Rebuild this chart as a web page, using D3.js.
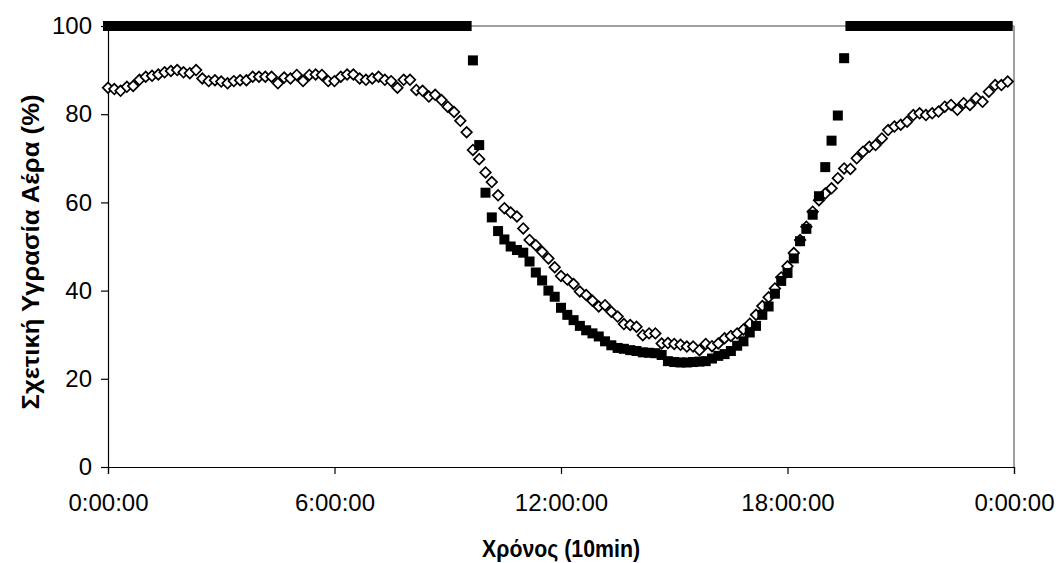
<!DOCTYPE html>
<html>
<head>
<meta charset="utf-8">
<script src="https://cdn.jsdelivr.net/npm/d3@7"></script>
<style>
  body { margin: 0; background: #fff; }
  svg { display: block; }
  .axis text { font-family: "Liberation Sans", Arial, sans-serif; font-size: 24px; fill: #000; }
  .title { font-family: "Liberation Sans", Arial, sans-serif; font-weight: bold; }
</style>
</head>
<body>
<div id="chart"></div>
<script>
// time of day in minutes, one reading every 10 min
var minutes = d3.range(0, 1440, 10);

var tickMinutes = [0, 360, 720, 1080, 1440];
var tickLabels = ["0:00:00", "6:00:00", "12:00:00", "18:00:00", "0:00:00"];
var yTicks = [0, 20, 40, 60, 80, 100];

// open diamonds
var rhA = [
  86.0, 85.7, 85.3, 86.2, 86.4, 87.8, 88.5, 88.7, 89.0, 89.5,
  89.8, 90.0, 89.5, 89.3, 90.0, 88.1, 87.5, 87.7, 87.4, 87.0,
  87.5, 87.7, 87.7, 88.5, 88.5, 88.5, 88.5, 87.0, 88.3, 88.1,
  88.9, 87.5, 88.9, 89.0, 88.9, 87.5, 87.5, 88.5, 89.0, 89.0,
  88.1, 87.8, 88.1, 88.5, 87.8, 87.5, 86.0, 87.8, 87.8, 85.5,
  85.3, 84.0, 84.4, 83.2, 81.7, 80.5, 78.5, 75.9,
  71.9, 69.8, 66.8, 64.6, 61.6, 58.7, 57.7, 56.8, 54.1, 51.5,
  50.3, 48.8, 47.3, 45.3, 43.3, 42.5, 41.5, 39.8, 39.0, 37.7,
  36.4, 36.7, 35.2, 34.1, 32.4, 32.2, 31.8, 29.9, 30.3, 30.3,
  28.0, 28.1, 27.9, 27.7, 27.3, 27.3, 26.5, 27.9, 27.4, 28.0,
  29.2, 29.7, 30.3, 31.2, 32.5, 34.5, 36.5, 38.5, 40.5, 43.0,
  45.5, 48.5, 51.5, 54.5, 57.9, 60.5, 62.0, 63.2, 65.5, 67.7,
  67.6, 70.0, 71.5, 72.6, 73.0, 74.5, 76.4, 77.2, 77.6, 78.3,
  79.8, 80.2, 79.8, 80.2, 80.6, 81.7, 82.1, 81.0, 82.5, 82.1,
  83.6, 82.8, 85.1, 86.6, 86.6, 87.4
];

// filled squares
var rhB = [
  100, 100, 100, 100, 100, 100, 100, 100, 100, 100,
  100, 100, 100, 100, 100, 100, 100, 100, 100, 100,
  100, 100, 100, 100, 100, 100, 100, 100, 100, 100,
  100, 100, 100, 100, 100, 100, 100, 100, 100, 100,
  100, 100, 100, 100, 100, 100, 100, 100, 100, 100,
  100, 100, 100, 100, 100, 100, 100, 100,
  92.2, 73.0, 62.2, 56.6, 53.5, 51.6, 50.0, 49.2, 48.6, 46.6,
  44.1, 42.3, 40.0, 38.6, 36.1, 34.5, 33.3, 32.0, 31.0, 30.3,
  29.6, 28.5, 27.6, 27.0, 26.8, 26.5, 26.3, 26.0, 25.9, 25.8,
  25.4, 24.0, 23.8, 23.7, 23.7, 23.8, 23.9, 24.0, 24.6, 25.2,
  25.6, 26.3, 27.5, 28.5, 30.5, 32.0, 34.5, 36.4, 39.3, 42.2,
  44.0, 47.3, 51.2, 54.0, 57.2, 61.4, 68.0, 74.0, 79.7, 92.7,
  100, 100, 100, 100, 100, 100, 100, 100, 100, 100,
  100, 100, 100, 100, 100, 100, 100, 100, 100, 100,
  100, 100, 100, 100, 100, 100
];

var width = 1059, height = 563;
var margin = { top: 26, right: 45, bottom: 96, left: 108 };

var svg = d3.select("#chart")
    .append("svg")
    .attr("width", width)
    .attr("height", height);

var x = d3.scaleLinear().domain([0, 1440]).range([margin.left, width - margin.right]);
var y = d3.scaleLinear().domain([0, 100]).range([height - margin.bottom, margin.top]);

// plot area border (grey top / right)
svg.append("line")
    .attr("x1", x(0)).attr("x2", x(1440))
    .attr("y1", y(100)).attr("y2", y(100))
    .attr("stroke", "#808080").attr("stroke-width", 1.5);
svg.append("line")
    .attr("x1", x(1440)).attr("x2", x(1440))
    .attr("y1", y(100)).attr("y2", y(0))
    .attr("stroke", "#808080").attr("stroke-width", 1.5);

// axes
svg.append("g")
    .attr("class", "axis")
    .attr("transform", "translate(0," + y(0) + ")")
    .call(d3.axisBottom(x)
        .tickValues(tickMinutes)
        .tickFormat(function(d, i) { return tickLabels[i]; })
        .tickSize(7)
        .tickPadding(20));

svg.append("g")
    .attr("class", "axis")
    .attr("transform", "translate(" + x(0) + ",0)")
    .call(d3.axisLeft(y)
        .tickValues(yTicks)
        .tickSize(7)
        .tickPadding(9));

svg.selectAll(".axis path, .axis line").attr("stroke", "#000").attr("stroke-width", 1.2);

// diamonds
var diamond = d3.symbol().type(d3.symbolSquare).size(56);
svg.append("g")
    .selectAll("path")
    .data(rhA)
    .join("path")
    .attr("d", diamond)
    .attr("transform", function(d, i) {
        return "translate(" + x(minutes[i]) + "," + y(d) + ") rotate(45)";
    })
    .attr("fill", "#fff")
    .attr("stroke", "#000")
    .attr("stroke-width", 1.7);

// squares
svg.append("g")
    .selectAll("rect")
    .data(rhB)
    .join("rect")
    .attr("x", function(d, i) { return x(minutes[i]) - 5; })
    .attr("y", function(d) { return y(d) - 5; })
    .attr("width", 10)
    .attr("height", 10)
    .attr("fill", "#000");

// axis titles
svg.append("text")
    .attr("class", "title")
    .attr("x", (x(0) + x(1440)) / 2)
    .attr("y", 557)
    .attr("font-size", 24)
    .attr("text-anchor", "middle")
    .attr("textLength", 158)
    .attr("lengthAdjust", "spacingAndGlyphs")
    .text("Χρόνος (10min)");

svg.append("text")
    .attr("class", "title")
    .attr("transform", "translate(39,252) rotate(-90)")
    .attr("font-size", 24)
    .attr("text-anchor", "middle")
    .attr("textLength", 315)
    .attr("lengthAdjust", "spacingAndGlyphs")
    .text("Σχετική Υγρασία Αέρα (%)");
</script>
</body>
</html>
